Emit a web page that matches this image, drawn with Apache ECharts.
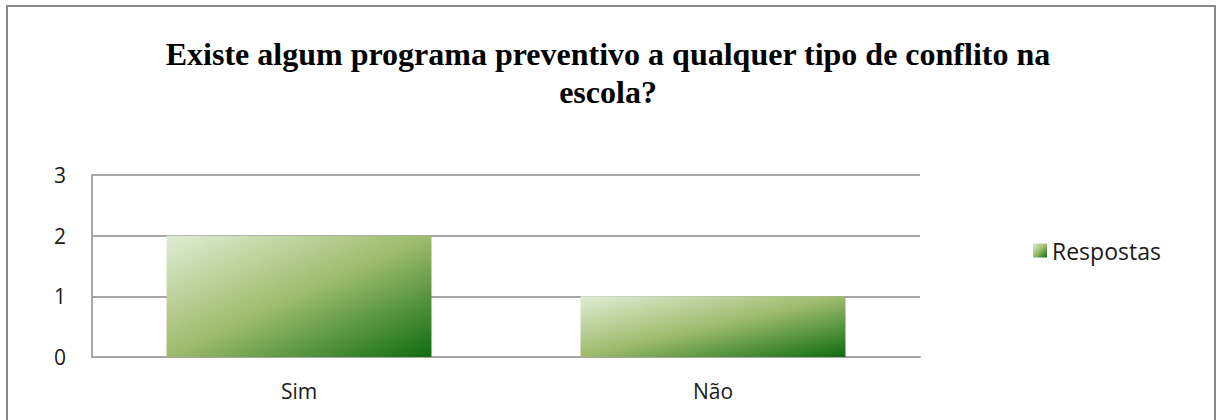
<!DOCTYPE html>
<html>
<head>
<meta charset="utf-8">
<script src="https://cdn.jsdelivr.net/npm/echarts@6/dist/echarts.min.js"></script>
<style>
  html, body { margin: 0; padding: 0; background: #ffffff; }
  #chart { width: 1216px; height: 420px; }
</style>
</head>
<body>
<div id="chart"></div>
<script>
const titleText = "Existe algum programa preventivo a qualquer tipo de conflito na\nescola?";
const categories = ["Sim", "Não"];
const seriesName = "Respostas";
const respostas = [2, 1];
const yMin = 0, yMax = 3, yInterval = 1;

const chart = echarts.init(document.getElementById('chart'), null, { renderer: 'svg' });

const barGradient = new echarts.graphic.LinearGradient(0, 0, 1, 1, [
  { offset: 0, color: '#e1ecd5' },
  { offset: 0.5, color: '#9dbb6c' },
  { offset: 1, color: '#0f6c10' }
]);

const option = {
  backgroundColor: '#ffffff',
  animation: false,
  title: {
    text: titleText,
    left: 'center',
    top: 35,
    padding: 0,
    textStyle: {
      fontFamily: '"Liberation Serif", "DejaVu Serif", serif',
      fontWeight: 'bold',
      fontSize: 32,
      lineHeight: 38,
      color: '#000000'
    }
  },
  legend: {
    data: [seriesName],
    orient: 'vertical',
    left: 1033,
    top: 239,
    padding: 0,
    itemWidth: 14,
    itemHeight: 14,
    itemGap: 6,
    icon: 'rect',
    textStyle: {
      fontFamily: '"Open Sans", sans-serif',
      fontSize: 23,
      color: '#1a1a1a',
      padding: [0, 0, 0, 0]
    }
  },
  grid: {
    left: 92,
    right: 296,
    top: 175,
    bottom: 63,
    containLabel: false
  },
  xAxis: {
    type: 'category',
    data: categories,
    axisLine: { show: true, lineStyle: { color: '#a6a6a6', width: 2 } },
    axisTick: { show: false },
    axisLabel: {
      margin: 23,
      fontFamily: '"Open Sans", sans-serif',
      fontSize: 21,
      color: '#1a1a1a'
    }
  },
  yAxis: {
    type: 'value',
    min: yMin,
    max: yMax,
    interval: yInterval,
    axisLine: { show: true, lineStyle: { color: '#a6a6a6', width: 2 } },
    axisTick: { show: false },
    splitLine: { show: true, lineStyle: { color: '#a6a6a6', width: 2 } },
    axisLabel: {
      margin: 26,
      fontFamily: '"Open Sans", sans-serif',
      fontSize: 21,
      color: '#1a1a1a'
    }
  },
  series: [{
    name: seriesName,
    type: 'bar',
    data: respostas,
    barWidth: '64%',
    itemStyle: { color: barGradient }
  }],
  graphic: [{
    type: 'rect',
    silent: true,
    shape: { x: 7, y: 6, width: 1208, height: 420 },
    style: { fill: 'none', stroke: '#898989', lineWidth: 2 }
  }]
};

chart.setOption(option);
</script>
</body>
</html>
